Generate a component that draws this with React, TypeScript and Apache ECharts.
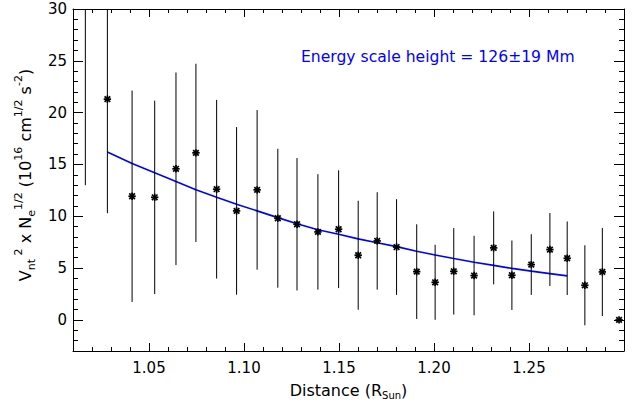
import React, { useEffect, useRef } from "react";
import * as echarts from "echarts";

// Measured data (distance in R_Sun, value, 1-sigma error)
const distance = [
  1.0165, 1.0281, 1.0411, 1.053, 1.0642, 1.0747, 1.0856, 1.0961, 1.1069, 1.1178,
  1.1279, 1.1389, 1.1498, 1.1601, 1.1701, 1.1803, 1.1909, 1.2006, 1.2104, 1.2211,
  1.2314, 1.241, 1.2512, 1.261, 1.2701, 1.2794, 1.2886, 1.2974,
];
const values = [
  34, 21.3, 11.93, 11.83, 14.58, 16.12, 12.61, 10.52, 12.55, 9.81,
  9.23, 8.49, 8.75, 6.24, 7.62, 7.03, 4.66, 3.63, 4.69, 4.28,
  6.95, 4.31, 5.34, 6.79, 5.95, 3.34, 4.63, 0.0,
];
const errors = [
  21, 11.0, 10.2, 9.33, 9.29, 8.6, 8.62, 8.09, 7.7, 6.7,
  6.39, 5.57, 5.68, 5.26, 4.7, 4.62, 4.57, 3.62, 4.17, 3.84,
  3.52, 3.35, 2.93, 3.52, 3.55, 3.86, 4.25, 0,
];

// Exponential fit
const fitDistance = [
  1.0281, 1.0411, 1.053, 1.0642, 1.0747, 1.0856, 1.0961, 1.1069, 1.1178, 1.1279,
  1.1389, 1.1498, 1.1601, 1.1701, 1.1803, 1.1909, 1.2006, 1.2104, 1.2211, 1.2314,
  1.241, 1.2512, 1.261, 1.2701,
];
const fitValues = [
  16.21, 15.09, 14.19, 13.35, 12.55, 11.83, 11.16, 10.52, 9.87, 9.28,
  8.7, 8.26, 7.82, 7.45, 7.07, 6.63, 6.27, 5.92, 5.56, 5.26,
  4.97, 4.71, 4.47, 4.25,
];

const xLabelValues = [1.05, 1.1, 1.15, 1.2, 1.25];
const yLabelValues = [0, 5, 10, 15, 20, 25, 30];
const annotation = "Energy scale height = 126\u00B119 Mm";

const FONT = "DejaVu Sans";
const X_MIN = 1.01;
const X_MAX = 1.3;
const Y_MIN = -3;
const Y_MAX = 30;

export default function App() {
  const ref = useRef<HTMLDivElement>(null);

  useEffect(() => {
    document.body.style.margin = "0";
    if (!ref.current) return;
    const chart = echarts.init(ref.current, null, { renderer: "svg" });

    const line = { show: true, onZero: false, lineStyle: { color: "#000", width: 1 } };
    const noLine = { show: false, onZero: false };

    const xBase = { type: "value", min: X_MIN, max: X_MAX, splitLine: { show: false } };
    const yBase = { type: "value", min: Y_MIN, max: Y_MAX, splitLine: { show: false } };

    const minorTickX = { show: true, inside: true, length: 4, lineStyle: { color: "#000", width: 1 } };
    const majorTickX = {
      show: true, inside: true, length: 8, customValues: xLabelValues,
      lineStyle: { color: "#000", width: 1 },
    };
    const minorTickY = { show: true, inside: true, length: 5, lineStyle: { color: "#000", width: 1 } };
    const majorTickY = {
      show: true, inside: true, length: 10, customValues: yLabelValues,
      lineStyle: { color: "#000", width: 1 },
    };

    const seriesData = distance.map((d, i) => [d, values[i], errors[i]]);
    const fitData = fitDistance.map((d, i) => [d, fitValues[i]]);

    const option: any = {
      animation: false,
      backgroundColor: "#fff",
      grid: { left: 73, right: 14, top: 9, bottom: 53, containLabel: false },
      xAxis: [
        {
          ...xBase, position: "bottom", interval: 0.01,
          axisLine: line, axisTick: minorTickX,
          axisLabel: {
            show: true, customValues: xLabelValues, margin: 9,
            color: "#000", fontFamily: FONT, fontSize: 15,
            formatter: (v: number) => v.toFixed(2),
          },
          name: "Distance (R{sub|Sun})",
          nameLocation: "middle",
          nameGap: 29,
          nameTextStyle: {
            color: "#000", fontFamily: FONT, fontSize: 16, lineHeight: 20,
            rich: {
              sub: { fontFamily: FONT, fontSize: 10, verticalAlign: "bottom", lineHeight: 20 },
            },
          },
        },
        {
          ...xBase, position: "bottom", axisLine: noLine, axisTick: majorTickX, axisLabel: { show: false },
        },
        {
          ...xBase, position: "top", interval: 0.01, axisLine: line, axisTick: minorTickX, axisLabel: { show: false },
        },
        {
          ...xBase, position: "top", axisLine: noLine, axisTick: majorTickX, axisLabel: { show: false },
        },
      ],
      yAxis: [
        {
          ...yBase, position: "left", interval: 1,
          axisLine: line, axisTick: minorTickY,
          axisLabel: {
            show: true, customValues: yLabelValues, margin: 6,
            color: "#000", fontFamily: FONT, fontSize: 15,
          },
          name: "V{sub|nt}{sup| 2} x N{sub|e}{sup|1/2} (10{sup|16} cm{sup|1/2} s{sup|-2})",
          nameLocation: "middle",
          nameGap: 31,
          nameTextStyle: {
            color: "#000", fontFamily: FONT, fontSize: 16, lineHeight: 24,
            padding: [0, 0, 0, 10],
            rich: {
              sub: { fontFamily: FONT, fontSize: 11, verticalAlign: "bottom", lineHeight: 24 },
              sup: { fontFamily: FONT, fontSize: 11, verticalAlign: "top", lineHeight: 24 },
            },
          },
        },
        {
          ...yBase, position: "left", axisLine: noLine, axisTick: majorTickY, axisLabel: { show: false },
        },
        {
          ...yBase, position: "right", interval: 1, axisLine: line, axisTick: minorTickY, axisLabel: { show: false },
        },
        {
          ...yBase, position: "right", axisLine: noLine, axisTick: majorTickY, axisLabel: { show: false },
        },
      ],
      series: [
        {
          type: "line",
          xAxisIndex: 0,
          yAxisIndex: 0,
          data: fitData,
          showSymbol: false,
          smooth: false,
          lineStyle: { color: "#0000ff", width: 1.6 },
          z: 3,
        },
        {
          type: "custom",
          xAxisIndex: 0,
          yAxisIndex: 0,
          data: seriesData,
          z: 4,
          renderItem: (params: any, api: any) => {
            const x = api.value(0);
            const y = api.value(1);
            const e = api.value(2);
            const cs = params.coordSys;
            const top = cs.y;
            const bottom = cs.y + cs.height;
            const p = api.coord([x, y]);
            const hi = api.coord([x, y + e]);
            const lo = api.coord([x, y - e]);
            const children: any[] = [];
            const y1 = Math.max(hi[1], top);
            const y2 = Math.min(lo[1], bottom);
            if (e > 0 && y1 < y2) {
              children.push({
                type: "line",
                shape: { x1: p[0], y1, x2: p[0], y2 },
                style: { stroke: "#000", lineWidth: 1 },
              });
            }
            if (p[1] >= top && p[1] <= bottom) {
              const s = 3.7;
              const d = 2.8;
              const st = { stroke: "#000", lineWidth: 1.7 };
              children.push(
                { type: "line", shape: { x1: p[0] - s, y1: p[1], x2: p[0] + s, y2: p[1] }, style: st },
                { type: "line", shape: { x1: p[0], y1: p[1] - s, x2: p[0], y2: p[1] + s }, style: st },
                { type: "line", shape: { x1: p[0] - d, y1: p[1] - d, x2: p[0] + d, y2: p[1] + d }, style: st },
                { type: "line", shape: { x1: p[0] - d, y1: p[1] + d, x2: p[0] + d, y2: p[1] - d }, style: st },
              );
            }
            return { type: "group", children };
          },
        },
      ],
      graphic: [
        {
          type: "text",
          x: 301,
          y: 57,
          style: {
            text: annotation,
            fill: "#0000ff",
            fontFamily: FONT,
            fontSize: 15.6,
            verticalAlign: "middle",
          },
        },
      ],
    };

    chart.setOption(option);
    return () => chart.dispose();
  }, []);

  return <div ref={ref} style={{ width: 638, height: 405 }} />;
}
